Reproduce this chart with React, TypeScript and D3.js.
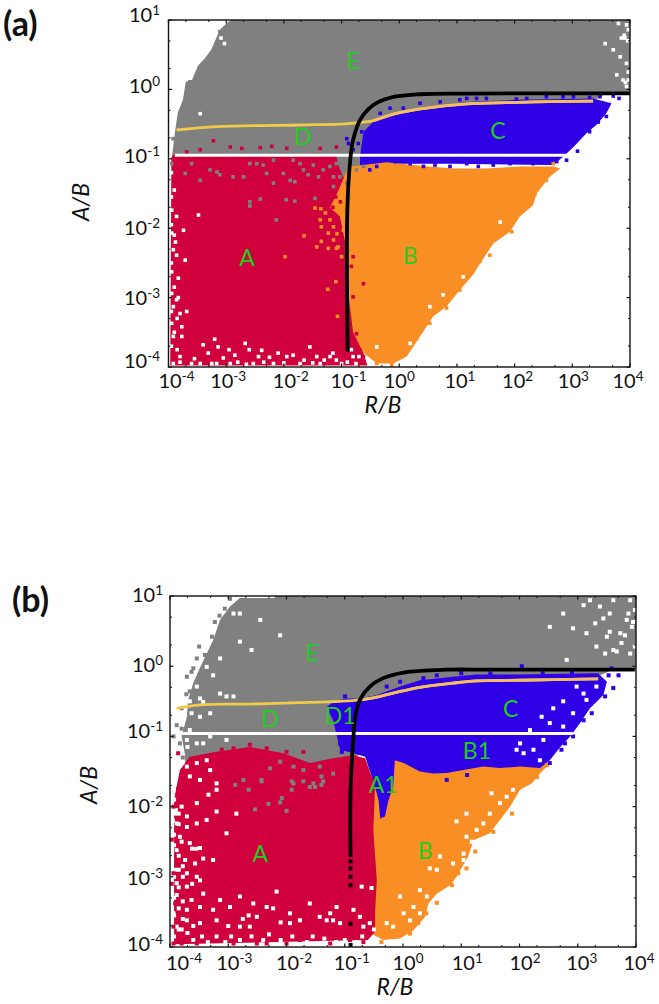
import { curveCatmullRom, line, scaleLog } from "d3";

type P = [number, number];

const RED = "#CF003C";
const ORANGE = "#F98E25";
const BLUE = "#2F00E6";
const GREY = "#808080";
const YELLOW = "#EFCB4A";
const YELLOW_ON_BLUE = "#F2BE62";
const LABEL = "#22CC22";

const EXPONENTS_X = [-4, -3, -2, -1, 0, 1, 2, 3, 4];
const EXPONENTS_Y = [1, 0, -1, -2, -3, -4];

// all series are [log10 R/B, log10 A/B]

// panel (a)
const A_GREY: P[] = [[-3.94, -1.1], [-3.94, -0.97], [-3.89, -0.63], [-3.84, -0.34], [-3.75, -0.15], [-3.7, 0.11], [-3.59, 0.14], [-3.49, 0.34], [-3.37, 0.45], [-3.26, 0.57], [-3.11, 0.86], [-2.97, 0.97], [-2.9, 1], [4, 1], [4, -0.05], [3.6, -0.05], [3.3, -0.2], [0, -0.6], [-0.7, -1.3]];
const A_RED: P[] = [[-3.95, -0.98], [-3.9, -0.93], [-1.1, -0.93], [-1.05, -1.1], [-0.98, -1.25], [-0.85, -1.35], [-0.7, -3.6], [-0.55, -3.98], [-3.97, -3.98]];
const A_BLUE: P[] = [[-0.68, -0.97], [-0.62, -0.61], [-0.45, -0.465], [-0.05, -0.345], [0.47, -0.25], [1.17, -0.18], [2.09, -0.15], [3.36, -0.13], [3.68, -0.2], [3.59, -0.345], [3.42, -0.51], [3.25, -0.63], [3.02, -0.83], [2.84, -0.97], [2.67, -1.09], [0.94, -1.07], [-0.22, -1.07], [-0.68, -1.1]];
const A_ORANGE: P[] = [[-0.85, -1.11], [-0.22, -1.05], [0.36, -1.1], [0.94, -1.14], [1.51, -1.14], [2.09, -1.11], [2.67, -1.11], [2.79, -1.14], [2.61, -1.26], [2.38, -1.5], [2.32, -1.67], [2.09, -1.83], [1.92, -2.05], [1.63, -2.22], [1.4, -2.51], [1.28, -2.67], [1.05, -2.89], [0.82, -3.13], [0.59, -3.27], [0.36, -3.56], [0.13, -3.85], [-0.1, -3.95], [-0.39, -3.95], [-0.62, -3.8], [-0.8, -3.5], [-0.87, -3.03], [-0.91, -2.31], [-1.03, -1.83], [-1.2, -1.7], [-1.05, -1.45], [-0.9, -1.15]];
const A_YELLOW: P[] = [[-3.86, -0.585], [-3.16, -0.537], [-1.72, -0.513], [-1.03, -0.5], [-0.85, -0.49], [-0.45, -0.45], [-0.05, -0.345], [0.47, -0.27], [1.17, -0.21], [1.86, -0.19], [2.61, -0.177], [3.36, -0.17]];
const A_BLACK: P[] = [[-0.894, -3.78], [-0.9, -1.74], [-0.85, -1.02], [-0.8, -0.73], [-0.68, -0.44], [-0.45, -0.225], [-0.16, -0.12], [0.36, -0.07], [1.2, -0.06], [4, -0.057]];
const A_WHITE_LINE: P[] = [[-3.89, -0.95], [2.96, -0.95]];
const A_WHITE_DOTS: P[] = [
  [-3.945, -1.74], [-3.86, -1.83], [-3.945, -2.07], [-3.74, -2.03], [-3.916, -2.31], [-3.86, -2.39], [-3.71, -2.46], [-3.945, -2.63], [-3.83, -2.72], [-3.945, -2.94], [-3.86, -3.03], [-3.916, -3.13], [-3.8, -3.23], [-3.685, -3.2], [-3.945, -3.37], [-3.77, -3.42], [-3.916, -3.56], [-3.77, -3.56], [-3.48, -1.81], [-3.4, -3.68], [-3.31, -3.8], [-3.14, -3.71], [-3.165, -3.95], [-2.85, -3.83], [-2.67, -3.66], [-2.44, -3.85], [-2.385, -3.76], [-2.1, -3.8], [-1.84, -3.83], [-1.55, -3.71], [-1.43, -3.85], [-1.2, -3.85], [-1.09, -3.9], [-3.45, -3.95], [-3.6, -3.95], [-3.916, -3.95], [-2.93, -3.95], [-2.53, -3.95], [-2.18, -3.95], [-1.72, -3.95], [-1.37, -3.95],
  [-3.95, -1.2], [-3.9, -1.45], [-3.95, -1.55], [-3.88, -2.2], [-3.95, -2.5], [-3.9, -2.85], [-3.83, -3], [-3.95, -3.2], [-3.85, -3.3], [-3.9, -3.5], [-3.95, -3.7], [-3.85, -3.75], [-3.8, -3.85], [-3.95, -1.95], [-3.9, -2.1],
  [-3.8, -3.93], [-3.55, -3.88], [-3.25, -3.95], [-3.05, -3.87], [-2.8, -3.93], [-2.65, -3.96], [-2.35, -3.93], [-2.25, -3.86], [-2, -3.94], [-1.95, -3.85], [-1.65, -3.9], [-1.5, -3.94], [-1.3, -3.9], [-1, -3.95], [-0.9, -3.93], [-0.8, -3.85], [-0.75, -3.95], [-0.83, -3.75], [-0.7, -3.85], [-1.15, -3.8], [-2.6, -3.75], [-3.2, -3.6], [-2.95, -3.75],
  [3.57, 0.66], [3.71, 0.57], [3.77, 0.21], [3.8, 0.95], [3.83, 0.47], [3.85, 0.74], [3.88, 0.135], [3.91, 0.74], [3.94, 0.93], [3.94, 0.375], [3.97, 0.135], [3.97, 0.86], [3.94, 0.04], [3.9, 0.78], [3.96, 0.7], [3.92, 0.1], [3.97, 0.25],
  [1.11, -2.7], [0.76, -2.96], [0.53, -3.13], [-0.39, -3.71], [0.19, -3.66], [1.75, -1.91], [-3.09, 0.74], [-3.03, 0.66], [-3.45, -0.35],
];
const A_GREY_DOTS: P[] = [[-3.6, -1.07], [-3.71, -1.21], [-3.45, -1.31], [-3.28, -1.16], [-3.16, -1.19], [-3.11, -1.23], [-2.88, -1.26], [-2.7, -1.26], [-2.59, -1.07], [-2.47, -1.07], [-2.36, -1.09], [-2.3, -1.21], [-2.18, -1.02], [-2.18, -1.35], [-2.01, -1.21], [-1.89, -1.31], [-1.81, -1.33], [-1.84, -1.02], [-1.72, -1.07], [-1.66, -1.16], [-1.58, -1.23], [-1.49, -1.09], [-1.4, -1.26], [-1.32, -1.16], [-1.2, -1.11], [-1.14, -1.26], [-1.09, -1.07], [-2.59, -1.62], [-2.41, -1.58], [-1.96, -1.59], [-1.81, -1.61], [-1.46, -1.57], [-2.13, -1.88], [-2.59, -1.68], [-1.03, -1.26], [-0.91, -1.35], [-1.14, -1.4], [-0.74, -1.16], [-0.62, -1.11], [-3.92, -0.71], [-3.945, -1.07], [-3.8, -0.35], [-3.42, 0.3], [-3.63, 0.11], [-3.11, 0.83]];
const A_RED_DOTS: P[] = [[-3.22, -0.74], [-3.685, -0.9], [-3.45, -0.87], [-2.93, -0.83], [-2.73, -0.85], [-2.41, -0.84], [-2.21, -0.82], [-1.95, -0.85], [-1.37, -0.85], [-1.09, -0.83], [-0.8, -2.99], [-0.62, -2.8], [-0.83, -2.55], [-0.74, -3.52], [-0.68, -3.76], [-0.62, -3.85], [-0.8, -2.41], [-1.14, -1.07], [-1.26, -1.16], [-1.09, -1.26], [-1.2, -1.4], [-1.32, -1.55], [-1.1, -1.55], [-1.02, -1.62], [-1.15, -1.7]];
const A_BLUE_DOTS: P[] = [[-0.88, -0.78], [-0.91, -0.71], [-0.65, -0.61], [-0.71, -0.78], [-0.8, -0.87], [-0.62, -0.83], [-0.33, -0.345], [-0.16, -0.27], [0.07, -0.27], [0.36, -0.2], [0.71, -0.18], [1.05, -0.15], [1.17, -0.13], [1.34, -0.13], [1.51, -0.13], [2.03, -0.14], [2.21, -0.13], [2.55, -0.105], [2.84, -0.105], [3.02, -0.105], [3.3, -0.115], [3.48, -0.105], [3.71, -0.095], [3.81, -0.13], [3.59, -0.39], [3.45, -0.47], [3.3, -0.61], [3.09, -0.89], [2.9, -1.02], [-0.51, -1.16], [-0.39, -1.11], [-0.07, -1.04], [0.19, -1.07], [0.42, -1.11], [0.62, -1.09], [0.88, -1.11], [1.17, -1.07], [1.37, -1.11], [1.63, -1.09], [1.92, -1.07], [2.32, -1.07], [2.73, -1.04]];
const A_ORANGE_DOTS: P[] = [[-1.98, -2.41], [-1.65, -2.11], [-1.43, -2.27], [-1.35, -2.19], [-1.23, -2.07], [-1.37, -1.88], [-1.2, -1.88], [-1.46, -1.71], [-1.24, -2.88], [-1.1, -2.77], [-1.07, -3.27], [-1.14, -2.17], [-1.09, -2.29], [-1.23, -2.29], [-1.35, -1.98], [-1.14, -1.98], [-1, -2.41], [-0.97, -2.03], [-1.06, -2.27], [-1.28, -1.78], [-1.36, -1.72], [-1.08, -2.08], [2.67, -1.07], [2.55, -1.31], [2.35, -1.52], [2.27, -1.64], [2.03, -1.71], [1.95, -2.05], [1.57, -2.39], [1.4, -2.48], [1.05, -2.89], [0.82, -3.15], [0.53, -3.37], [0.3, -3.59], [-0.13, -3.97], [-0.39, -3.95]];

// panel (b)
const B_GREY: P[] = [[-3.74, -1.5], [-3.74, -1.27], [-3.8, -1], [-3.71, -0.72], [-3.69, -0.48], [-3.6, -0.24], [-3.48, -0.01], [-3.26, 0.37], [-3.14, 0.66], [-2.97, 0.85], [-2.8, 0.97], [-2.2, 0.97], [-2.2, 1], [4, 1], [4, -0.05], [3.6, -0.05], [3.2, -0.2], [0, -0.6], [-0.8, -1.3], [-0.6, -1.6]];
const B_ORANGE: P[] = [[-0.14, -1.3], [2.47, -1.3], [2.47, -1.43], [2.35, -1.53], [2.21, -1.67], [2.01, -1.76], [1.84, -2], [1.665, -2.19], [1.49, -2.38], [1.21, -2.48], [1.12, -2.71], [0.92, -3], [0.81, -3.12], [0.58, -3.24], [0.435, -3.38], [0.38, -3.57], [0.18, -3.76], [-0.05, -3.88], [-0.34, -3.9], [-0.45, -3.85], [-0.6, -3.8], [-0.6, -1.6]];
const B_BLUE: P[] = [[-0.995, -0.46], [-0.74, -0.46], [-0.45, -0.41], [-0.05, -0.29], [0.29, -0.2], [0.86, -0.15], [1.26, -0.12], [2.01, -0.12], [3.35, -0.1], [3.5, -0.22], [3.44, -0.41], [3.21, -0.6], [3.04, -0.81], [2.87, -1], [2.7, -1.15], [2.52, -1.34], [2.35, -1.45], [2.01, -1.43], [1.665, -1.45], [1.38, -1.43], [1.035, -1.48], [0.75, -1.52], [0.52, -1.53], [0.29, -1.5], [0.01, -1.38], [-0.14, -1.34], [-0.17, -1.72], [-0.25, -1.91], [-0.31, -2.14], [-0.39, -2.17], [-0.42, -1.91], [-0.48, -1.72], [-0.54, -1.57], [-0.65, -1.29], [-0.85, -1.24], [-1.08, -1.19], [-1.14, -0.98], [-1.2, -0.77], [-1.31, -0.58], [-1.2, -0.51]];
const B_RED: P[] = [[-3.83, -1.48], [-3.66, -1.29], [-3.2, -1.22], [-2.63, -1.15], [-2.05, -1.24], [-1.6, -1.38], [-1.2, -1.31], [-0.85, -1.27], [-0.65, -1.31], [-0.54, -1.57], [-0.48, -1.72], [-0.51, -2.33], [-0.45, -3.05], [-0.48, -3.52], [-0.48, -3.78], [-0.6, -3.9], [-3.93, -3.96], [-3.93, -1.9]];
const B_YELLOW: P[] = [[-3.885, -0.6], [-3.48, -0.55], [-2.63, -0.54], [-1.77, -0.52], [-1.08, -0.5], [-0.74, -0.48], [-0.45, -0.44], [-0.05, -0.36], [0.29, -0.3], [0.86, -0.24], [1.26, -0.21], [2.01, -0.2], [3.35, -0.18]];
const B_BLACK: P[] = [[-0.9, -2.72], [-0.9, -1.76], [-0.85, -1], [-0.82, -0.72], [-0.74, -0.48], [-0.57, -0.29], [-0.34, -0.17], [0.01, -0.09], [0.75, -0.05], [1.5, -0.05], [3.98, -0.05]];
const B_BLACK_DOTS: P[] = [[-0.9, -2.78], [-0.9, -2.88], [-0.9, -3], [-0.9, -3.12], [-0.9, -3.67], [-0.9, -3.97]];
const B_WHITE_LINE: P[] = [[-3.88, -0.96], [2.92, -0.96]];
const B_WHITE_DOTS: P[] = [
  [-3.91, -2.1], [-3.8, -2], [-3.71, -2.14], [-3.885, -2.24], [-3.71, -2.29], [-3.54, -2.24], [-3.83, -2.43], [-3.66, -2.52], [-3.485, -2.59], [-3.885, -2.62], [-3.74, -2.76], [-3.57, -2.81], [-3.43, -2.74], [-3.26, -2.76], [-3.91, -2.9], [-3.71, -2.95], [-3.54, -3], [-3.885, -3.09], [-3.71, -3.14], [-3.485, -3.05], [-3.885, -3.26], [-3.63, -3.33], [-3.43, -3.24], [-3.14, -3.33], [-3.94, -3.52], [-3.71, -3.47], [-3.485, -3.43], [-3.26, -3.47], [-3.885, -3.71], [-3.71, -3.62], [-3.485, -3.66], [-3.2, -3.62], [-2.97, -3.43], [-2.8, -3.28], [-2.57, -3.38], [-2.17, -3.21], [-2.8, -3.71], [-2.63, -3.71], [-2.51, -3.57], [-2.34, -3.43], [-2.23, -3.45], [-1.94, -3.52], [-1.94, -3.66], [-1.77, -3.62], [-1.6, -3.38], [-1.43, -3.57], [-1.2, -3.62], [-3.2, -2.07], [-3.37, -2.19], [-3.54, -1.95], [-3.34, -1.83], [-3.2, -1.76], [-3.03, -2.38], [-2.86, -2.1],
  [-3.93, -1.9], [-3.9, -2.05], [-3.85, -2.25], [-3.93, -2.4], [-3.8, -2.5], [-3.93, -2.55], [-3.85, -2.7], [-3.78, -2.85], [-3.85, -2.9], [-3.93, -3], [-3.78, -3], [-3.85, -3.15], [-3.93, -3.3], [-3.78, -3.35], [-3.85, -3.45], [-3.93, -3.55], [-3.78, -3.6], [-3.85, -3.75], [-3.93, -3.85], [-3.7, -3.8], [-3.8, -3.75], [-3.62, -2.6], [-3.62, -3.1], [-3.6, -3.7], [-3.55, -2.6], [-3.85, -2.1], [-3.95, -2.2],
  [-3.6, -3.9], [-3.45, -3.85], [-3.35, -3.93], [-3.2, -3.85], [-3.05, -3.93], [-2.95, -3.85], [-2.8, -3.9], [-2.6, -3.85], [-2.4, -3.9], [-2.3, -3.82], [-2.1, -3.9], [-1.9, -3.85], [-1.65, -3.93], [-1.55, -3.85], [-1.35, -3.88], [-1.15, -3.93], [-1, -3.9], [-0.8, -3.93], [-0.7, -3.85], [-0.55, -3.9], [-0.5, -3.75], [-2.75, -3.6], [-2.65, -3.55], [-3, -3.7], [-2.1, -3.65],
  [-1.14, -3.43], [-0.85, -3.47], [-0.74, -3.57], [-1.31, -3.62], [-1.08, -3.66], [-0.68, -3.71], [-0.57, -3.66], [-0.54, -3.16], [-0.71, -3.14], [-1.25, -3.52],
  [-3.71, -1.43], [-3.66, -1.57], [-3.54, -1.38], [-3.485, -1.62], [-3.37, -1.34], [-3.31, -1.48], [-3.2, -1.67],
  [1.09, -2.1], [0.92, -2.21], [1.49, -2.1], [1.38, -2.24], [1.265, -2.33], [1.09, -2.43], [1.18, -2.5], [1.04, -2.67], [0.86, -2.81], [0.58, -2.9], [0.46, -2.88], [0.29, -3.19], [0.41, -3.28], [0.18, -3.43], [0.29, -3.52], [-0.05, -3.28], [0.01, -3.52], [-0.17, -3.71], [-0.28, -3.66], [0.12, -3.62], [1.665, -1.95], [1.78, -1.86], [1.52, -1.81], [1.89, -1.76], [0.635, -2.71], [1.04, -2.76],
  [2.98, -0.29], [2.75, -0.5], [3.1, -0.39], [2.92, -0.67], [2.58, -0.6], [2.38, -0.72], [2.52, -0.81], [2.75, -0.86], [2.18, -0.91], [2.01, -1.1], [2.41, -1.05], [2.24, -1.19], [2.35, -1.34], [2.07, -1.24], [1.95, -1.19], [3.15, -0.48], [3.32, -0.29],
  [3.1, 0.87], [3.21, 0.94], [3.38, 0.85], [3.55, 0.75], [3.84, 0.66], [3.93, 0.56], [3.15, 0.47], [3.32, 0.28], [3.47, 0.18], [3.61, 0.23], [3.73, 0.47], [3.5, 0.42], [3.75, 0.33], [3.67, 0.21], [3.87, 0.75], [3.95, 0.63], [3.61, 0.94], [3.9, 0.94], [3.98, 0.28], [3.9, 0.18], [2.92, 0.54], [2.75, 0.75], [2.52, 0.56], [2.81, 0.09], [3.3, 0.61], [3.44, 0.68], [3.55, 0.49], [3.81, 0.44], [3.98, 0.8],
  [-3.485, -0.46], [-3.43, -0.51], [-3.14, 0.11], [-2.91, 0.75], [-2.8, 0.35], [-3.26, -0.13], [-3.37, -0.01], [-3.54, -0.29], [-2.8, 0.75], [-2.45, 0.66], [-2.11, 0.44], [-3.43, -1.1], [-3.54, -1.1], [-3.31, -1], [-3.03, -1.05], [-3.66, -0.91], [-3.485, -0.72], [-3.31, -0.67], [-3.63, -0.67], [-3.71, -1.05], [-2.91, -0.43], [-2.6, 0.23], [-3.03, -0.43], [-3.14, -0.39],
  [-3.62, -0.05], [-3.45, 0.2], [-3.3, 0.5], [-3.18, 0.75], [-2.95, 0.92], [-3.66, -0.5], [-3.7, -1.15],
];
const B_GREY_DOTS: P[] = [[-3.71, -0.15], [-3.6, -0.03], [-3.5, 0.28], [-3.28, 0.42], [-3.23, 0.63], [-2.97, 0.96], [-3.885, -0.84], [-3.94, -1], [-3.83, -1.1], [-3.8, -0.89], [-3.66, -0.36], [-3.54, 0.11], [-3.4, 0.16], [-3.63, -0.08], [-3.8, -0.6], [-3.78, -1.3], [-3.72, -0.4], [-3.15, 0.72], [-3.06, 0.82], [-2.74, -1.62], [-2.28, -1.455], [-2.11, -1.36], [-1.88, -1.43], [-1.71, -1.48], [-1.54, -1.67], [-1.4, -1.57], [-1.88, -1.67], [-2.43, -1.62], [-1.43, -1.43], [-1.2, -1.53], [-2.65, -1.76], [-2.88, -1.69], [-2.43, -1.64], [-1.91, -1.64], [-1.91, -1.76], [-1.71, -1.64], [-1.6, -1.72], [-1.51, -1.72], [-1.4, -1.69], [-1.37, -1.64], [-2.08, -1.88], [-2.11, -1.94], [-2.31, -1.96], [-2.54, -2.04], [-2, -2.06]];
const B_RED_DOTS: P[] = [[-3.86, -1.24], [-3.11, -1.19], [-2.91, -1.17], [-2.63, -1.12], [-2.34, -1.17], [-2, -1.22], [-1.71, -1.22], [-3.97, -2.47], [-3.97, -3.1], [-3.85, -2.17], [-3.83, -2.57], [-3.94, -2.95], [-3.91, -3.38], [-3.94, -3.71], [-3.94, -3.95], [-3.8, -3.95], [-3.54, -3.95], [-3.31, -3.85], [-3.08, -3.83], [-2.91, -3.95], [-2.51, -3.95], [-2.23, -3.9], [-2, -3.95], [-1.77, -3.9], [-1.25, -3.95], [-3.14, -3.9], [-2.71, -3.85], [-2.34, -3.95], [-1.43, -3.85], [-1.08, -3.85], [-0.91, -3.9], [-0.68, -3.93], [-1.31, -3.81], [-0.8, -3.78], [-0.6, -3.78], [-3.94, -2], [-3.86, -1.75], [-3.75, -1.55]];
const B_BLUE_DOTS: P[] = [[3.61, -0.31], [3.47, -0.43], [3.24, -0.67], [3.1, -0.77], [2.92, -1], [2.78, -1.1], [2.72, -1.19], [2.52, -1.38], [3.53, -0.13], [3.7, -0.13], [2.04, 0], [3.58, -0.03], [0.58, -0.13], [-0.28, -0.29], [-0.05, -0.22], [0.35, -0.17], [1, -0.1], [1.5, -0.1], [2.4, -0.09], [2.9, -0.09], [-1.08, -1.1], [-1.05, -1.22], [0.75, -1.62], [-0.995, -0.43], [1.1, -1.55]];
const B_ORANGE_DOTS: P[] = [[1.24, -2.64], [1.09, -2.88], [0.95, -2.95], [0.84, -3.12], [0.58, -3.37], [0.4, -3.52], [0.26, -3.66], [0.12, -3.81], [-0.37, -3.93], [1.87, -2.1], [1.55, -2.36], [2.47, -1.41], [2.3, -1.58], [1.4, -2.33]];

const X_LABEL_DX_A = [8, 2, 7, 7, 0, 3, 3, 1, -2];
const Y_LABEL_DY_A = [2, 3.6, 4, 7, 7.4, 1];
const X_LABEL_DX_B = [14, 6, 7.5, 7, 5, 6, 5.5, 4, 3];
const Y_LABEL_DY_B = [6, 6, 1.5, 6, 8, 4];

const FONT = "Lato, 'Open Sans', sans-serif";

type Region = { id: string; pts: P[]; color: string };
type Lab = { text: string; r: number; a: number };

const Panel = ({
  frame,
  regions,
  dots,
  dotSize,
  yellow,
  black,
  whiteLine,
  labels,
  xDx,
  yDy,
  xBase,
  yRight,
}: {
  frame: { l: number; r: number; t: number; b: number };
  regions: Region[];
  dots: { pts: P[]; color: string }[];
  dotSize: number;
  yellow: P[];
  black: P[];
  whiteLine: P[];
  labels: Lab[];
  xDx: number[];
  yDy: number[];
  xBase: number;
  yRight: number;
}) => {
  const x = scaleLog().domain([1e-4, 1e4]).range([frame.l, frame.r]);
  const y = scaleLog().domain([1e-4, 10]).range([frame.b, frame.t]);
  const smooth = line<P>()
    .x((d) => x(10 ** d[0]))
    .y((d) => y(10 ** d[1]))
    .curve(curveCatmullRom.alpha(0.5));
  const straight = line<P>()
    .x((d) => x(10 ** d[0]))
    .y((d) => y(10 ** d[1]));

  const minors = (ticks: number[]) =>
    ticks.filter((t) => {
      const m = Math.round(t / 10 ** Math.floor(Math.log10(t) + 1e-9));
      return m === 2 || m === 5;
    });
  const xMinor = minors(x.ticks(80));
  const yMinor = minors(y.ticks(60));

  return (
    <g>
      {regions.map((r) => (
        <path key={r.id} d={straight(r.pts) + "Z"} fill={r.color} />
      ))}
      {dots.map((group, i) => (
        <g key={i} fill={group.color}>
          {group.pts.map((d, j) => (
            <rect
              key={j}
              x={x(10 ** d[0]) - dotSize / 2}
              y={y(10 ** d[1]) - dotSize / 2}
              width={dotSize}
              height={dotSize}
            />
          ))}
        </g>
      ))}
      <path d={straight(whiteLine)!} stroke="#fff" strokeWidth={3} fill="none" />
      <path d={smooth(yellow)!} stroke={YELLOW} strokeWidth={2.8} fill="none" />
      <path
        d={smooth(yellow.filter((d) => d[0] >= -0.75))!}
        stroke={YELLOW_ON_BLUE}
        strokeWidth={2.8}
        fill="none"
      />
      <path d={smooth(black)!} stroke="#000" strokeWidth={3.8} fill="none" />

      {/* frame and ticks */}
      <rect
        x={frame.l}
        y={frame.t}
        width={frame.r - frame.l}
        height={frame.b - frame.t}
        fill="none"
        stroke="#111"
        strokeWidth={1.4}
      />
      {EXPONENTS_X.map((e) => (
        <g key={e} stroke="#111" strokeWidth={1.2}>
          <line x1={x(10 ** e)} x2={x(10 ** e)} y1={frame.b} y2={frame.b - 3.5} />
          <line x1={x(10 ** e)} x2={x(10 ** e)} y1={frame.t} y2={frame.t + 3.5} />
        </g>
      ))}
      {EXPONENTS_Y.map((e) => (
        <g key={e} stroke="#111" strokeWidth={1.2}>
          <line y1={y(10 ** e)} y2={y(10 ** e)} x1={frame.l} x2={frame.l + 3.5} />
          <line y1={y(10 ** e)} y2={y(10 ** e)} x1={frame.r} x2={frame.r - 3.5} />
        </g>
      ))}
      {xMinor.map((t) => (
        <g key={t} stroke="#111" strokeWidth={1}>
          <line x1={x(t)} x2={x(t)} y1={frame.b} y2={frame.b - 2} />
          <line x1={x(t)} x2={x(t)} y1={frame.t} y2={frame.t + 2} />
        </g>
      ))}
      {yMinor.map((t) => (
        <g key={t} stroke="#111" strokeWidth={1}>
          <line y1={y(t)} y2={y(t)} x1={frame.l} x2={frame.l + 2} />
          <line y1={y(t)} y2={y(t)} x1={frame.r} x2={frame.r - 2} />
        </g>
      ))}

      {EXPONENTS_X.map((e, i) => (
        <text key={e} x={x(10 ** e) + xDx[i]} y={xBase} textAnchor="middle" fontSize={20} fill="#111">
          10
          <tspan dy={-7} fontSize={13.5}>
            {e}
          </tspan>
        </text>
      ))}
      {EXPONENTS_Y.map((e, i) => (
        <text key={e} x={yRight} y={y(10 ** e) + yDy[i]} textAnchor="end" fontSize={20} fill="#111">
          10
          <tspan dy={-7} fontSize={13.5}>
            {e}
          </tspan>
        </text>
      ))}

      {labels.map((l) => (
        <text
          key={l.text}
          x={x(10 ** l.r)}
          y={y(10 ** l.a)}
          textAnchor="middle"
          dominantBaseline="central"
          fontSize={23}
          fill={LABEL}
        >
          {l.text}
        </text>
      ))}
    </g>
  );
};

const LABELS_A: Lab[] = [
  { text: "E", r: -0.8, a: 0.42 },
  { text: "D", r: -1.67, a: -0.67 },
  { text: "C", r: 1.71, a: -0.58 },
  { text: "A", r: -2.64, a: -2.42 },
  { text: "B", r: 0.19, a: -2.39 },
];
const LABELS_B: Lab[] = [
  { text: "E", r: -1.56, a: 0.2 },
  { text: "D", r: -2.28, a: -0.74 },
  { text: "D1", r: -1.08, a: -0.69 },
  { text: "C", r: 1.85, a: -0.59 },
  { text: "B1", r: 1.27, a: -1.19 },
  { text: "A1", r: -0.34, a: -1.68 },
  { text: "A", r: -2.45, a: -2.66 },
  { text: "B", r: 0.38, a: -2.62 },
];

export default function App() {
  return (
    <svg
      width={659}
      height={1004}
      fontFamily={FONT}
      style={{ position: "absolute", left: 0, top: 0, background: "#fff" }}
    >
      <text x={3} y={36} fontSize={34} fontWeight={700} fill="#111">
        (a)
      </text>
      <text x={12} y={612} fontSize={34} fontWeight={700} fill="#111">
        (b)
      </text>

      <Panel
        frame={{ l: 168.5, r: 630, t: 20, b: 367 }}
        regions={[
          { id: "grey", pts: A_GREY, color: GREY },
          { id: "red", pts: A_RED, color: RED },
          { id: "blue", pts: A_BLUE, color: BLUE },
          { id: "orange", pts: A_ORANGE, color: ORANGE },
        ]}
        dots={[
          { pts: A_WHITE_DOTS, color: "#fff" },
          { pts: A_RED_DOTS, color: RED },
          { pts: A_GREY_DOTS, color: GREY },
          { pts: A_ORANGE_DOTS, color: ORANGE },
          { pts: A_BLUE_DOTS, color: BLUE },
        ]}
        dotSize={3.6}
        yellow={A_YELLOW}
        black={A_BLACK}
        whiteLine={A_WHITE_LINE}
        labels={LABELS_A}
        xDx={X_LABEL_DX_A}
        yDy={Y_LABEL_DY_A}
        xBase={388}
        yRight={160}
      />
      <Panel
        frame={{ l: 170, r: 636, t: 596, b: 947 }}
        regions={[
          { id: "grey", pts: B_GREY, color: GREY },
          { id: "orange", pts: B_ORANGE, color: ORANGE },
          { id: "blue", pts: B_BLUE, color: BLUE },
          { id: "red", pts: B_RED, color: RED },
        ]}
        dots={[
          { pts: B_WHITE_DOTS, color: "#fff" },
          { pts: B_RED_DOTS, color: RED },
          { pts: B_GREY_DOTS, color: GREY },
          { pts: B_ORANGE_DOTS, color: ORANGE },
          { pts: B_BLUE_DOTS, color: BLUE },
          { pts: B_BLACK_DOTS, color: "#000" },
        ]}
        dotSize={4}
        yellow={B_YELLOW}
        black={B_BLACK}
        whiteLine={B_WHITE_LINE}
        labels={LABELS_B}
        xDx={X_LABEL_DX_B}
        yDy={Y_LABEL_DY_B}
        xBase={970}
        yRight={163}
      />

      <text x={383} y={413} textAnchor="middle" fontSize={23} fontStyle="italic" fill="#111">
        R/B
      </text>
      <text x={395} y={995} textAnchor="middle" fontSize={23} fontStyle="italic" fill="#111">
        R/B
      </text>
      <text transform="translate(89,202) rotate(-90)" textAnchor="middle" fontSize={23} fontStyle="italic" fill="#111">
        A/B
      </text>
      <text transform="translate(97,785) rotate(-90)" textAnchor="middle" fontSize={23} fontStyle="italic" fill="#111">
        A/B
      </text>
    </svg>
  );
}
